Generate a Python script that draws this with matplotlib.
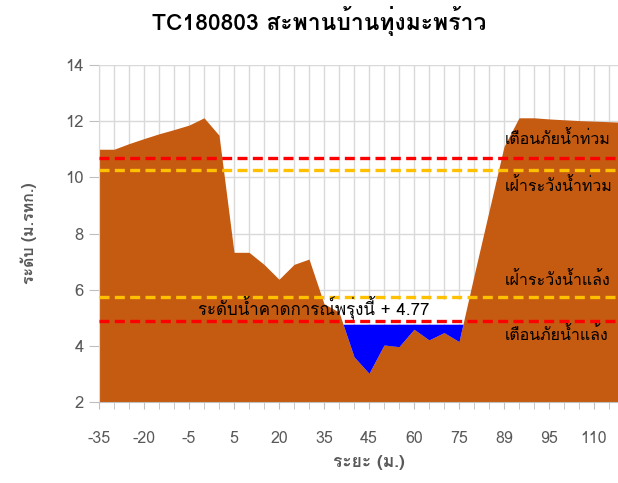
import matplotlib
matplotlib.use('Agg')
from matplotlib import pyplot as plt
from matplotlib import font_manager
from matplotlib.ft2font import FT2Font
import numpy as np

# Station cross-section: distance categories and bed elevation (m. MSL)
distance = [-35, -30, -25, -20, -15, -10, -5, 0, 2, 5, 10, 15, 20, 25, 30, 35,
            38, 40, 45, 50, 55, 60, 65, 70, 75, 80, 85, 89, 90, 92, 95, 100,
            105, 110, 115, 120, 125]
elevation = [11.0, 11.0, 11.2, 11.38, 11.55, 11.7, 11.86, 12.12, 11.5, 7.33,
             7.33, 6.9, 6.37, 6.9, 7.09, 5.5, 5.2, 3.61, 3.02, 4.03, 3.97,
             4.59, 4.21, 4.47, 4.15, 6.5, 8.8, 11.1, 12.12, 12.12, 12.08,
             12.05, 12.02, 12.0, 11.98, 11.96, 11.94]

forecast_level = 4.77
flood_warning = 10.70
flood_watch = 10.26
drought_watch = 5.73
drought_warning = 4.89

title = "TC180803 สะพานบ้านทุ่งมะพร้าว"


# Pick an installed font that has Thai glyphs
def find_thai_font():
    for f in font_manager.fontManager.ttflist:
        try:
            cmap = FT2Font(f.fname).get_charmap()
        except Exception:
            continue
        if 0x0E01 in cmap and 0x0E49 in cmap:
            return f.name
    return None


thai = find_thai_font()
fams = [thai, 'DejaVu Sans'] if thai else ['DejaVu Sans']
plt.rcParams['font.family'] = fams

x = np.arange(len(distance))
y = np.array(elevation)

fig = plt.figure(figsize=(6.18, 4.83), dpi=100)
ax = fig.add_axes([99 / 618, 1 - 402 / 483, 540 / 618, 337 / 483])

# ground and water
ax.fill_between(x, 0, y, color='#C55A11', lw=0, zorder=2)
ax.fill_between(x, y, forecast_level, where=y < forecast_level,
                interpolate=True, color='#0000FF', lw=0, zorder=2)
ax.fill_between([6.6, 26], forecast_level, 5.62, color='white', lw=0, zorder=1.5)

# threshold lines
for lvl, col in [(flood_warning, '#FF0000'), (flood_watch, '#FFC000'),
                 (drought_watch, '#FFC000'), (drought_warning, '#FF0000')]:
    ax.axhline(lvl, color=col, lw=2.4, dashes=(3, 1.6), zorder=3)

lbl = dict(fontsize=11.5, color='black', va='center', ha='left', zorder=4)
ax.text(27.05, 11.33, "เตือนภัยน้ำท่วม", **lbl)
ax.text(27.05, 9.67, "เฝ้าระวังน้ำท่วม", **lbl)
ax.text(27.05, 6.34, "เฝ้าระวังน้ำแล้ง", **lbl)
ax.text(27.05, 4.38, "เตือนภัยน้ำแล้ง", **lbl)
ax.text(14.33, 5.38, "ระดับน้ำคาดการณ์พรุ่งนี้ + %.2f" % forecast_level,
        fontsize=12.2, color='black', va='center', ha='center', zorder=4)

ax.set_xlim(0, 36)
ax.set_ylim(2, 14)
ax.set_yticks(range(2, 15, 2))
ax.set_xticks(x[:34:3])
ax.set_xticklabels([str(d) for d in distance[:34:3]])
ax.set_xticks(x, minor=True)

ax.grid(True, which='both', axis='x', color='#D9D9D9', lw=1)
ax.grid(True, which='major', axis='y', color='#D9D9D9', lw=1)
ax.set_axisbelow(True)

for s in ['top', 'right']:
    ax.spines[s].set_visible(False)
ax.spines['left'].set_color('#D9D9D9')
ax.spines['bottom'].set_color('#BFBFBF')
ax.spines['bottom'].set_zorder(5)

ax.tick_params(axis='y', colors='#595959', labelsize=12, length=7,
               color='#BFBFBF', pad=4)
ax.tick_params(axis='x', which='both', colors='#595959', labelsize=11.5,
               length=5, color='#BFBFBF', pad=16)

ax.set_xlabel("ระยะ (ม.)", fontsize=12.5, fontweight='bold', color='#595959',
              labelpad=6)
ax.set_ylabel("ระดับ (ม.รทก.)", fontsize=11.5, fontweight='bold',
              color='#595959', labelpad=20)
fig.text(0.516, 0.956, title, fontsize=16.5, fontweight='bold',
         ha='center', va='center')

fig.savefig('out.png', dpi=100)
